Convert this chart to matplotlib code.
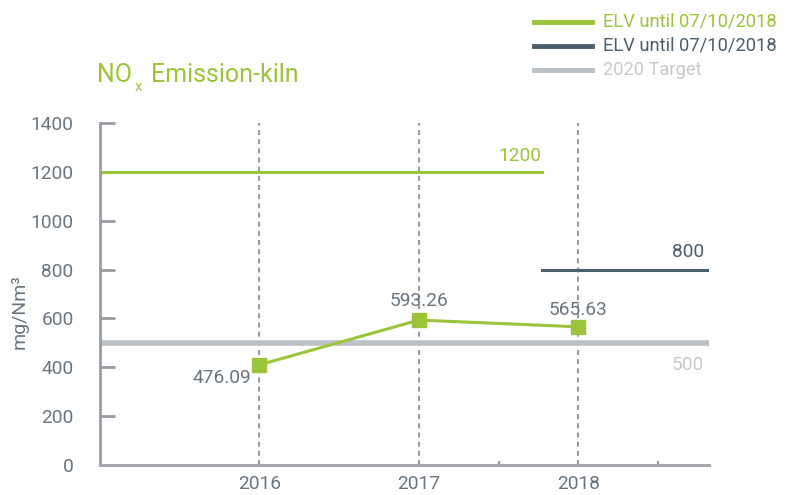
import numpy as np
import matplotlib
matplotlib.use('Agg')
import matplotlib.pyplot as plt

plt.rcParams['font.family'] = ['Roboto', 'DejaVu Sans']
plt.rcParams['font.weight'] = 'normal'

# Datos
years = [2016, 2017, 2018]
nox_plot = [410, 593.26, 565.63]          # posicao desenhada
nox_labels = ['476.09', '593.26', '565.63']

elv_old = 1200
elv_old_span = [2015.0, 2017.77]
elv_new = 800
elv_new_span = [2017.77, 2018.82]
target = 500
y_ticks = [0, 200, 400, 600, 800, 1000, 1200, 1400]

green = '#9cc43a'
dark = '#4c5e69'
light = '#bcc1c6'
txt = '#6a757f'
axc = '#9a9ca3'

fig = plt.figure(figsize=(7.89, 4.95), dpi=100)
ax = fig.add_axes([100/789, 1-465/495, 609/789, 342/495])

ax.set_xlim(2015.0, 2018.82)
ax.set_ylim(0, 1400)

# linhas verticais tracejadas
for yr in years:
    ax.axvline(yr, color=axc, lw=1.5, ls=(0, (2.4, 2.0)), zorder=1)

# limites
ax.plot(elv_old_span, [elv_old, elv_old], color=green, lw=2.2, zorder=2)
ax.plot(elv_new_span, [elv_new, elv_new], color=dark, lw=2.2, zorder=2)
ax.axhline(target, color=light, lw=4, zorder=2)

# serie
ax.plot(years, nox_plot, color=green, lw=2.2, marker='s', ms=10, zorder=3)

fs = 13.8
ax.text(years[0] - 0.05, nox_plot[0] - 55, nox_labels[0], color=txt, fontsize=fs, ha='right', va='center')
ax.text(years[1], nox_plot[1] + 79, nox_labels[1], color=txt, fontsize=fs, ha='center', va='center')
ax.text(years[2], nox_plot[2] + 69, nox_labels[2], color=txt, fontsize=fs, ha='center', va='center')
ax.text(elv_old_span[1], elv_old + 65, str(elv_old), color=green, fontsize=fs, ha='right', va='center')
ax.text(elv_new_span[1] - 0.03, elv_new + 72, str(elv_new), color=dark, fontsize=fs, ha='right', va='center')
ax.text(elv_new_span[1] - 0.03, target - 91, str(target), color='#c6cacd', fontsize=fs, ha='right', va='center')

# eixos
for s in ['top', 'right']:
    ax.spines[s].set_visible(False)
ax.spines['left'].set_color(axc)
ax.spines['left'].set_linewidth(2)
ax.spines['bottom'].set_color('#a3a6ac')
ax.spines['bottom'].set_linewidth(2.2)

ax.set_yticks(y_ticks)
ax.set_yticklabels([str(v) for v in y_ticks], color=txt, fontsize=fs)
ax.tick_params(axis='y', direction='in', length=11, width=2, color=axc, pad=19)
ax.set_xticks(years)
ax.set_xticklabels([str(y) for y in years], color=txt, fontsize=fs)
ax.set_xticks([2017.5, 2018.5], minor=True)
ax.tick_params(axis='x', which='major', length=0, pad=7)
ax.tick_params(axis='x', which='minor', direction='in', length=3, width=1.5, color=axc)
fig.text(20/789, 1-312/495, 'mg/Nm³', color=txt, fontsize=14, rotation=90, ha='center', va='center')

# titulo
fig.text(97/789, 1-75/495, 'NO', color=green, fontsize=18, ha='left', va='center')
fig.text(135/789, 1-87/495, 'x', color=green, fontsize=10.5, ha='left', va='center')
fig.text(151/789, 1-75/495, 'Emission-kiln', color=green, fontsize=18, ha='left', va='center')

# legenda
leg = [('ELV until 07/10/2018', green, green),
       ('ELV until 07/10/2018', dark, dark),
       ('2020 Target', light, '#c6cacd')]
for i, (lab, lc, tc) in enumerate(leg):
    yy = 1 - (21.5 + 24.3*i)/495
    fig.add_artist(plt.Line2D([534/789, 592/789], [yy, yy], color=lc, lw=3.5))
    fig.text(603/789, yy, lab, color=tc, fontsize=13.2, ha='left', va='center')

fig.savefig('out.png', dpi=100)
